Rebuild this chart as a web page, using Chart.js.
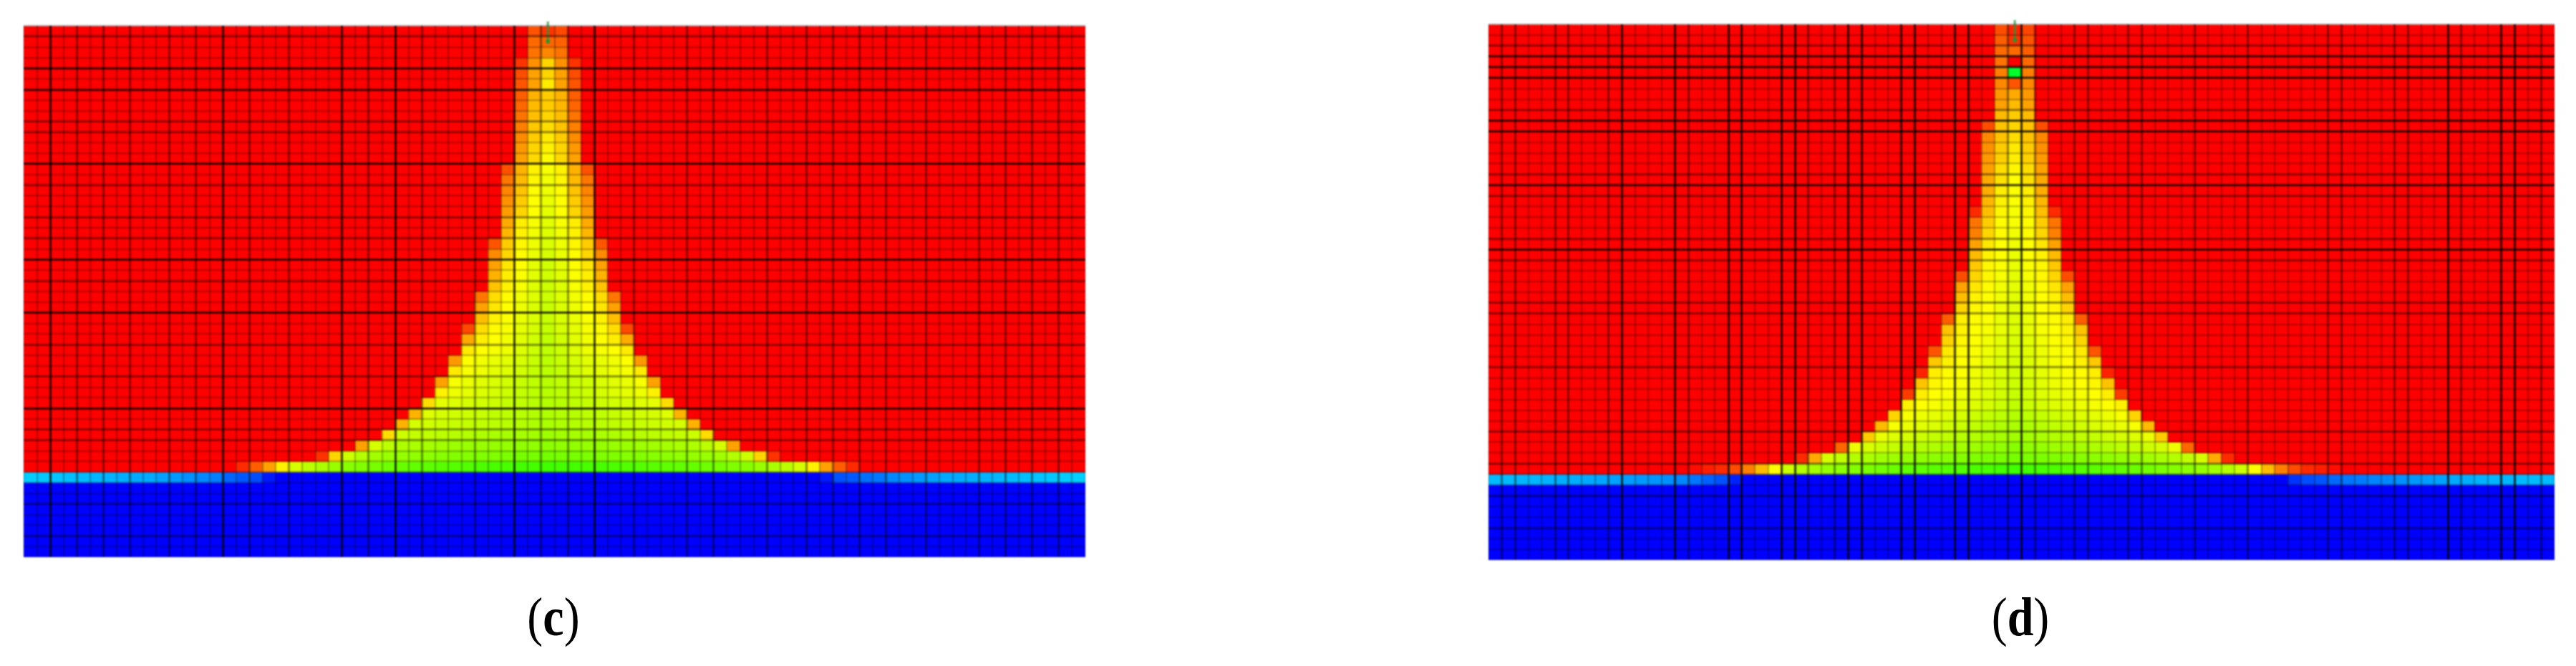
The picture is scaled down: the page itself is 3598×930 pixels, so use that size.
<!DOCTYPE html>
<html>
<head>
<meta charset="utf-8">
<title>Plume</title>
<script src="https://cdn.jsdelivr.net/npm/chart.js@4"></script>
<style>
  body { margin: 0; background: #fff; width: 3598px; height: 930px; position: relative; overflow: hidden; }
  canvas { position: absolute; filter: blur(0.8px); }
  .tag { position: absolute; font-family: "Liberation Serif", serif; font-size: 66px; line-height: 66px; color: #000; transform: translateX(-50%) scaleY(1.15); }
  .tag b { font-weight: bold; }
</style>
</head>
<body>
<canvas id="panelC" width="1483" height="750" style="left:33px;top:28px"></canvas>
<canvas id="panelD" width="1489" height="756" style="left:2079px;top:26px"></canvas>
<div class="tag" style="left:773px;top:829px">(<b>c</b>)</div>
<div class="tag" style="left:2822px;top:829px">(<b>d</b>)</div>
<script>
// Rejilla: 80 columnas x 50 filas. Filas 0-41 gas, fila 42 interfaz, filas 43-49 agua
const numCols = 80;
const numRows = 50;
const interfaceRow = 42;

// Cada fila: [columna inicial, [tono de cada celda de la pluma]]. Fuera de la pluma, rojo (0)
const plumeC = [
  [38, [19, 12, 17]],
  [38, [25, 24, 23]],
  [38, [27, 32, 27]],
  [37, [12, 34, 50, 34, 12]],
  [37, [18, 38, 50, 38, 18]],
  [37, [20, 38, 55, 38, 20]],
  [37, [22, 42, 48, 42, 22]],
  [37, [24, 44, 48, 43, 24]],
  [37, [27, 45, 50, 45, 27]],
  [37, [30, 47, 52, 46, 30]],
  [37, [33, 48, 55, 48, 33]],
  [37, [36, 50, 57, 50, 36]],
  [37, [38, 51, 59, 51, 38]],
  [36, [19, 42, 57, 62, 57, 42, 19]],
  [36, [28, 44, 58, 63, 58, 44, 28]],
  [36, [31, 46, 59, 64, 59, 46, 31]],
  [36, [34, 48, 60, 65, 60, 48, 34]],
  [36, [37, 50, 60, 66, 60, 50, 37]],
  [36, [40, 56, 62, 67, 62, 56, 40]],
  [36, [43, 57, 63, 68, 63, 57, 43]],
  [35, [20, 48, 58, 64, 69, 64, 58, 48, 20]],
  [35, [33, 50, 59, 65, 70, 65, 59, 50, 33]],
  [35, [38, 54, 60, 66, 71, 66, 60, 54, 38]],
  [35, [42, 56, 61, 67, 71, 67, 61, 56, 42]],
  [35, [46, 57, 62, 68, 72, 68, 62, 57, 46]],
  [34, [28, 52, 59, 63, 68, 72, 68, 63, 59, 52, 28]],
  [34, [38, 54, 60, 64, 69, 73, 69, 64, 60, 54, 38]],
  [34, [45, 57, 61, 65, 69, 73, 69, 65, 61, 57, 45]],
  [33, [17, 52, 59, 62, 66, 70, 74, 70, 66, 62, 59, 52, 17]],
  [33, [40, 56, 60, 63, 67, 71, 75, 71, 67, 63, 60, 56, 40]],
  [33, [55, 60, 62, 64, 68, 72, 75, 72, 68, 64, 62, 60, 55]],
  [32, [36, 60, 63, 65, 67, 70, 73, 76, 73, 70, 67, 65, 63, 60, 36]],
  [32, [55, 62, 64, 66, 68, 71, 74, 76, 74, 71, 68, 66, 64, 62, 55]],
  [31, [38, 62, 65, 67, 69, 71, 73, 75, 77, 75, 73, 71, 69, 67, 65, 62, 38]],
  [31, [57, 64, 66, 68, 70, 72, 74, 76, 77, 76, 74, 72, 70, 68, 66, 64, 57]],
  [30, [52, 66, 68, 70, 71, 72, 74, 75, 77, 78, 77, 75, 74, 72, 71, 70, 68, 66, 52]],
  [29, [42, 68, 70, 71, 72, 73, 75, 76, 77, 78, 79, 78, 77, 76, 75, 73, 72, 71, 70, 68, 42]],
  [28, [42, 70, 71, 72, 73, 74, 75, 76, 77, 78, 79, 80, 79, 78, 77, 76, 75, 74, 73, 72, 71, 70, 42]],
  [27, [52, 72, 74, 75, 76, 77, 78, 79, 80, 81, 81, 82, 83, 82, 81, 81, 80, 79, 78, 77, 76, 75, 74, 72, 52]],
  [25, [38, 70, 76, 79, 80, 81, 82, 83, 84, 84, 85, 85, 86, 86, 87, 86, 86, 85, 85, 84, 84, 83, 82, 81, 80, 79, 76, 70, 38]],
  [22, [12, 50, 72, 78, 82, 84, 85, 86, 87, 88, 89, 89, 90, 90, 91, 92, 92, 93, 92, 92, 91, 90, 90, 89, 89, 88, 87, 86, 85, 84, 82, 78, 72, 50, 12]],
  [16, [10, 22, 38, 57, 70, 76, 80, 84, 88, 90, 92, 94, 96, 97, 98, 99, 100, 101, 102, 103, 103, 104, 104, 105, 104, 104, 103, 103, 102, 101, 100, 99, 98, 97, 96, 94, 92, 90, 88, 84, 80, 76, 70, 57, 38, 22, 10]]
];

const plumeD = [
  [38, [18, 8, 16]],
  [38, [22, 12, 20]],
  [38, [25, 25, 22]],
  [38, [27, 0, 25]],
  [38, [30, 130, 30]],
  [38, [32, 20, 32]],
  [38, [36, 40, 36]],
  [38, [38, 44, 38]],
  [38, [44, 48, 44]],
  [37, [18, 46, 50, 46, 18]],
  [37, [32, 46, 52, 46, 32]],
  [37, [34, 48, 55, 48, 34]],
  [37, [36, 49, 56, 49, 36]],
  [37, [38, 52, 58, 52, 38]],
  [37, [40, 53, 60, 53, 40]],
  [37, [41, 56, 61, 56, 41]],
  [37, [43, 57, 61, 57, 43]],
  [36, [10, 45, 58, 62, 58, 45, 10]],
  [36, [27, 48, 59, 62, 59, 48, 27]],
  [36, [30, 50, 59, 63, 59, 50, 30]],
  [36, [38, 54, 60, 64, 60, 54, 38]],
  [36, [44, 57, 60, 65, 60, 57, 44]],
  [36, [47, 58, 61, 65, 61, 58, 47]],
  [35, [18, 50, 58, 62, 66, 62, 58, 50, 18]],
  [35, [38, 54, 59, 63, 66, 63, 59, 54, 38]],
  [35, [45, 57, 60, 63, 67, 63, 60, 57, 45]],
  [35, [50, 58, 60, 64, 67, 64, 60, 58, 50]],
  [34, [22, 56, 59, 61, 65, 68, 65, 61, 59, 56, 22]],
  [34, [46, 57, 60, 62, 65, 68, 65, 62, 60, 57, 46]],
  [34, [50, 58, 60, 63, 66, 69, 66, 63, 60, 58, 50]],
  [33, [20, 55, 59, 61, 64, 67, 69, 67, 64, 61, 59, 55, 20]],
  [33, [47, 57, 60, 62, 65, 68, 70, 68, 65, 62, 60, 57, 47]],
  [32, [8, 56, 59, 61, 63, 66, 69, 71, 69, 66, 63, 61, 59, 56, 8]],
  [32, [46, 58, 60, 62, 64, 67, 70, 72, 70, 67, 64, 62, 60, 58, 46]],
  [31, [14, 56, 60, 62, 64, 66, 68, 71, 73, 71, 68, 66, 64, 62, 60, 56, 14]],
  [31, [57, 60, 62, 64, 66, 68, 70, 72, 75, 72, 70, 68, 66, 64, 62, 60, 57]],
  [30, [50, 62, 64, 66, 68, 70, 72, 74, 76, 78, 76, 74, 72, 70, 68, 66, 64, 62, 50]],
  [29, [44, 62, 65, 67, 69, 71, 73, 75, 77, 79, 80, 79, 77, 75, 73, 71, 69, 67, 65, 62, 44]],
  [28, [48, 65, 68, 70, 72, 74, 75, 77, 78, 80, 81, 82, 81, 80, 78, 77, 75, 74, 72, 70, 68, 65, 48]],
  [26, [24, 64, 70, 72, 74, 76, 78, 79, 81, 82, 83, 85, 86, 88, 86, 85, 83, 82, 81, 79, 78, 76, 74, 72, 70, 64, 24]],
  [23, [10, 40, 70, 75, 78, 80, 82, 83, 85, 86, 87, 88, 89, 90, 91, 91, 92, 91, 91, 90, 89, 88, 87, 86, 85, 83, 82, 80, 78, 75, 70, 40, 10]],
  [15, [3, 7, 10, 18, 30, 44, 60, 72, 78, 82, 85, 87, 89, 91, 93, 95, 97, 98, 99, 100, 101, 102, 103, 104, 105, 104, 103, 102, 101, 100, 99, 98, 97, 95, 93, 91, 89, 87, 85, 82, 78, 72, 60, 44, 30, 18, 10, 7, 3]]
];

// Tonos de la fila de interfaz, columna por columna
const interfaceC = [
  192, 193, 194, 195, 196, 197, 198, 199, 200, 200, 202, 204, 206, 208, 210, 216, 219, 222, 234, 240,
  240, 240, 240, 240, 240, 240, 240, 240, 240, 240, 240, 240, 240, 240, 240, 240, 240, 240, 240, 240,
  240, 240, 240, 240, 240, 240, 240, 240, 240, 240, 240, 240, 240, 240, 240, 240, 240, 240, 240, 240,
  234, 221, 219, 214, 212, 208, 206, 204, 202, 200, 200, 199, 198, 197, 196, 195, 194, 193, 192, 191
];
const interfaceD = [
  196, 196, 197, 197, 198, 199, 199, 200, 201, 202, 203, 204, 205, 206, 208, 212, 217, 221, 232, 240,
  240, 240, 240, 240, 240, 240, 240, 240, 240, 240, 240, 240, 240, 240, 240, 240, 240, 240, 240, 240,
  240, 240, 240, 240, 240, 240, 240, 240, 240, 240, 240, 240, 240, 240, 240, 240, 240, 240, 240, 240,
  228, 222, 220, 215, 212, 211, 209, 208, 206, 204, 203, 202, 200, 199, 198, 197, 197, 196, 196, 196
];

// Lineas de malla marcadas (indice de columna o fila)
const strongColsC = [2, 15, 24, 28, 37, 43];
const mediumColsC = [4, 6, 8, 11, 13, 17, 20, 26, 30, 34, 39, 41, 46, 50, 52, 56, 59, 61, 63, 65, 68, 72, 74, 76, 78];
const strongRowsC = [4, 6, 13, 22, 27, 36];
const mediumRowsC = [1, 9, 10, 15, 18, 20, 24, 30, 33, 38, 39, 45, 48];

const strongColsD = [10, 14, 18, 19, 22, 23, 27, 28, 31, 32, 35, 36, 40, 72, 76, 77];
const mediumColsD = [1, 2, 5, 6, 9, 15, 24, 26, 39, 41, 44, 45, 48, 49, 53, 57, 63, 64, 68, 69, 73, 79];
const strongRowsD = [3, 4, 5, 9, 10, 15, 21];
const mediumRowsD = [2, 8, 14, 16, 20, 22, 26, 27, 32, 38, 41, 44, 47];

// Pozo: columna y filas inicial y final de la marca verde
const wellCol = 39;
const wellRows = [-0.4, 1.48];

function cellHue(plume, iface, r, c) {
  if (r === interfaceRow) return iface[c];
  if (r > interfaceRow) return 240;
  const start = plume[r][0];
  const hues = plume[r][1];
  const k = c - start;
  return k >= 0 && k < hues.length ? hues[k] : 0;
}

function lineColor(index, strong, medium) {
  if (strong.includes(index)) return 'rgba(0,0,0,0.75)';
  if (medium.includes(index)) return 'rgba(0,0,0,0.42)';
  return 'rgba(0,0,0,0.28)';
}

function lineWidth(index, strong, medium) {
  return strong.includes(index) || medium.includes(index) ? 3 : 2;
}

function drawPanel(id, plume, iface, sCols, mCols, sRows, mRows) {
  const labels = [];
  for (let c = 0; c < numCols; c++) labels.push(c);

  const datasets = [];
  // Una serie apilada por fila, de arriba hacia abajo
  for (let r = 0; r < numRows; r++) {
    datasets.push({
      type: 'bar',
      stack: 'malla',
      data: labels.map(() => 1),
      backgroundColor: labels.map(c => 'hsl(' + cellHue(plume, iface, r, c) + ',100%,50%)'),
      borderWidth: 0,
      barPercentage: 1,
      categoryPercentage: 1
    });
  }
  datasets.push({
    type: 'line',
    data: [{ x: wellCol, y: wellRows[0] }, { x: wellCol, y: wellRows[1] }],
    borderColor: 'rgba(40,150,60,0.8)',
    borderWidth: 3,
    pointRadius: [0, 3],
    pointBackgroundColor: 'rgba(30,150,50,0.9)',
    pointBorderWidth: 0,
    clip: false,
    order: -1
  });

  new Chart(document.getElementById(id).getContext('2d'), {
    type: 'bar',
    data: { labels: labels, datasets: datasets },
    options: {
      responsive: false,
      animation: false,
      // Sin autoPadding la linea del pozo no encoge el area de dibujo
      layout: { autoPadding: false, padding: { top: 8 } },
      plugins: { legend: { display: false }, tooltip: { enabled: false } },
      scales: {
        x: {
          offset: true,
          stacked: true,
          border: { display: false },
          ticks: { display: false, autoSkip: false },
          grid: {
            offset: true,
            z: 1,
            drawTicks: false,
            color: ctx => lineColor(ctx.index, sCols, mCols),
            lineWidth: ctx => lineWidth(ctx.index, sCols, mCols)
          }
        },
        y: {
          stacked: true,
          reverse: true,
          min: 0,
          max: numRows,
          border: { display: false },
          ticks: { display: false, autoSkip: false, stepSize: 1 },
          grid: {
            z: 1,
            drawTicks: false,
            color: ctx => lineColor(ctx.tick.value, sRows, mRows),
            lineWidth: ctx => lineWidth(ctx.tick.value, sRows, mRows)
          }
        }
      }
    }
  });
}

drawPanel('panelC', plumeC, interfaceC, strongColsC, mediumColsC, strongRowsC, mediumRowsC);
drawPanel('panelD', plumeD, interfaceD, strongColsD, mediumColsD, strongRowsD, mediumRowsD);
</script>
</body>
</html>
